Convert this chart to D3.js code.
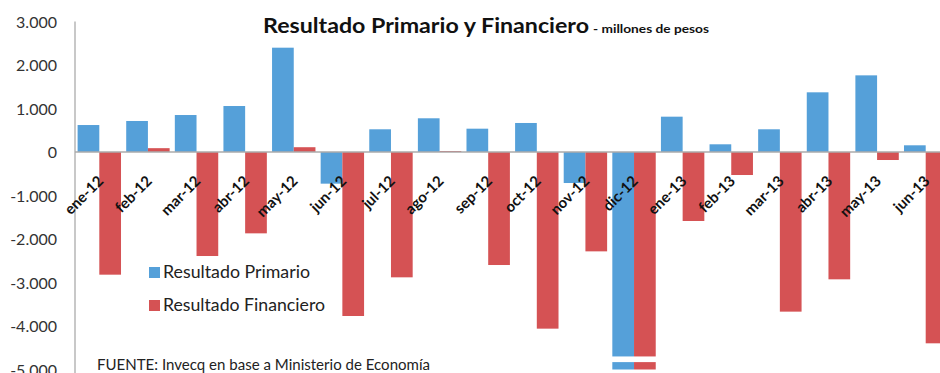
<!DOCTYPE html>
<html>
<head>
<meta charset="utf-8">
<script src="https://cdn.jsdelivr.net/npm/d3@7"></script>
<style>
  html, body { margin: 0; padding: 0; background: #fff; }
  svg { display: block; }
</style>
</head>
<body>
<div id="chart"></div>
<script>
// ---- data ----
const categories = ["ene-12","feb-12","mar-12","abr-12","may-12","jun-12","jul-12","ago-12","sep-12","oct-12","nov-12","dic-12","ene-13","feb-13","mar-13","abr-13","may-13","jun-13"];
const seriesNames = ["Resultado Primario", "Resultado Financiero"];
// dic-12 values fall beyond the axis minimum (bars are drawn broken / clipped)
const primario   = [620, 713, 850, 1057, 2398, -728, 522, 775, 536, 667, -713, -7000, 812, 177, 522, 1372, 1762, 154];
const financiero = [-2820, 88, -2391, -1870, 110, -3770, -2881, 23, -2598, -4061, -2284, -8000, -1586, -529, -3670, -2927, -184, -4398];
const yTicks = [3000, 2000, 1000, 0, -1000, -2000, -3000, -4000, -5000];
const brokenCategory = "dic-12";
const breakValues = [-4700, -4830];

const colors = ["#55A0D9", "#D55254"];
const W = 940, H = 373;

const svg = d3.select("#chart").append("svg").attr("width", W).attr("height", H);

const x = d3.scaleBand().domain(categories).range([75, 950]).paddingInner(0.107).paddingOuter(0.0535);
const xs = d3.scaleBand().domain(seriesNames).range([0, x.bandwidth()]).padding(0);
const y = d3.scaleLinear().domain([-5000, 3000]).range([369.5, 21.5]).clamp(true);

const rows = categories.map((c, i) => ({ cat: c, vals: [primario[i], financiero[i]] }));

// bars
const g = svg.append("g");
rows.forEach(r => {
  r.vals.forEach((v, k) => {
    g.append("rect")
      .attr("x", x(r.cat) + xs(seriesNames[k]))
      .attr("width", xs.bandwidth())
      .attr("y", Math.min(y(v), y(0)))
      .attr("height", Math.abs(y(v) - y(0)))
      .attr("fill", colors[k]);
  });
});

// axis break for clipped category
svg.append("rect")
  .attr("x", x(brokenCategory) - 1)
  .attr("width", x.bandwidth() + 2)
  .attr("y", y(breakValues[0]))
  .attr("height", y(breakValues[1]) - y(breakValues[0]))
  .attr("fill", "#fff");

// axes lines
svg.append("line")
  .attr("x1", 75).attr("x2", 75)
  .attr("y1", y(3000)).attr("y2", H)
  .attr("stroke", "#ababab").attr("stroke-width", 1.3);
svg.append("line")
  .attr("x1", 75).attr("x2", W)
  .attr("y1", y(0)).attr("y2", y(0))
  .attr("stroke", "#ababab").attr("stroke-width", 1.3);

// y tick labels
const loc = d3.formatLocale({ decimal: ",", thousands: ".", grouping: [3], currency: ["$", ""], minus: "-" });
const fmt = loc.format(",d");
const yAxis = d3.axisLeft(y).tickValues(yTicks).tickFormat(fmt).tickSize(0).tickPadding(0);
const ya = svg.append("g").attr("transform", "translate(57,0)").call(yAxis);
ya.select(".domain").remove();
ya.selectAll("text")
  .attr("font-family", "Lato, 'Open Sans', sans-serif")
  .attr("font-size", 16)
  .attr("fill", "#333")
  .attr("dy", "0.36em");

// x labels
const xl = svg.append("g");
categories.forEach(c => {
  xl.append("text")
    .attr("transform", `translate(${x(c) + x.bandwidth() / 2 + 5},182) rotate(-45)`)
    .attr("text-anchor", "end")
    .attr("font-family", "Lato, 'Open Sans', sans-serif")
    .attr("font-weight", "bold")
    .attr("font-size", 15)
    .attr("fill", "#111")
    .text(c);
});

// title
svg.append("text")
  .attr("x", 263).attr("y", 33)
  .attr("font-family", "Lato, 'Open Sans', sans-serif")
  .attr("font-weight", "bold")
  .attr("font-size", 20)
  .attr("fill", "#111")
  .attr("textLength", 326).attr("lengthAdjust", "spacingAndGlyphs")
  .text("Resultado Primario y Financiero");
svg.append("text")
  .attr("x", 593).attr("y", 33)
  .attr("font-family", "Lato, 'Open Sans', sans-serif")
  .attr("font-weight", "bold")
  .attr("font-size", 12)
  .attr("fill", "#111")
  .attr("textLength", 116).attr("lengthAdjust", "spacingAndGlyphs")
  .text("- millones de pesos");

// legend
const legY = [278, 311];
const legW = [147, 162];
seriesNames.forEach((n, k) => {
  svg.append("rect").attr("x", 149).attr("y", legY[k] - 11).attr("width", 11).attr("height", 11).attr("fill", colors[k]);
  svg.append("text")
    .attr("x", 163).attr("y", legY[k])
    .attr("font-family", "Lato, 'Open Sans', sans-serif")
    .attr("font-size", 16.5)
    .attr("fill", "#222")
    .attr("textLength", legW[k]).attr("lengthAdjust", "spacingAndGlyphs")
    .text(n);
});

// source
svg.append("text")
  .attr("x", 97).attr("y", 369.5)
  .attr("font-family", "Lato, 'Open Sans', sans-serif")
  .attr("font-size", 14.5)
  .attr("fill", "#222")
  .attr("textLength", 333).attr("lengthAdjust", "spacingAndGlyphs")
  .text("FUENTE: Invecq en base a Ministerio  de Economía");
</script>
</body>
</html>
